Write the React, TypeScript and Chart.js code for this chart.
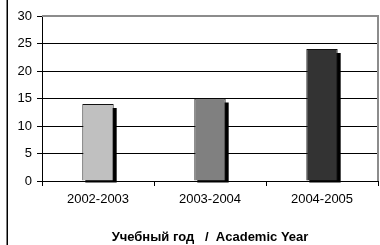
import React, { useEffect, useRef } from "react";
import { Chart, registerables } from "chart.js";

Chart.register(...registerables);

const categories = ["2002-2003", "2003-2004", "2004-2005"];
const values = [14, 15, 24];
const barColors = ["#C0C0C0", "#808080", "#333333"];
const yTicks = [0, 5, 10, 15, 20, 25, 30];
const xTitle = "Учебный год   /  Academic Year";

const FONT = "'Liberation Sans', Arial, sans-serif";

const shadowPlugin = {
  id: "barShadow",
  beforeDatasetsDraw(chart: any) {
    const ctx = chart.ctx;
    const meta = chart.getDatasetMeta(0);
    ctx.save();
    ctx.fillStyle = "#000000";
    meta.data.forEach((el: any) => {
      const { x, y, base, width } = el.getProps(["x", "y", "base", "width"], true);
      ctx.fillRect(x - width / 2 + 3, y + 4, width, base - y - 2);
    });
    ctx.restore();
  },
  afterDraw(chart: any) {
    const ctx = chart.ctx;
    const a = chart.chartArea;
    ctx.save();
    ctx.strokeStyle = "#8c8c8c";
    ctx.lineWidth = 2;
    ctx.beginPath();
    ctx.moveTo(a.left, a.top);
    ctx.lineTo(a.right, a.top);
    ctx.lineTo(a.right, a.bottom);
    ctx.stroke();
    ctx.strokeStyle = "#000000";
    ctx.lineWidth = 1.5;
    ctx.beginPath();
    ctx.moveTo(7.25, 0);
    ctx.lineTo(7.25, chart.height);
    ctx.stroke();
    ctx.restore();
  },
};

export default function App() {
  const ref = useRef<HTMLCanvasElement | null>(null);

  useEffect(() => {
    document.body.style.margin = "0";
    const canvas = ref.current;
    if (!canvas) return;
    const chart = new Chart(canvas, {
      type: "bar",
      data: {
        labels: categories,
        datasets: [
          {
            data: values,
            backgroundColor: barColors,
            borderColor: "#111111",
            borderWidth: 1,
            borderSkipped: "bottom",
            categoryPercentage: 1,
            barPercentage: 0.28,
          },
        ],
      },
      options: {
        animation: false,
        responsive: false,
        maintainAspectRatio: false,
        events: [],
        layout: { padding: { top: 16, right: 2, left: 0, bottom: 0 } },
        plugins: {
          legend: { display: false },
          tooltip: { enabled: false },
          title: { display: false },
        },
        scales: {
          x: {
            grid: {
              offset: true,
              drawOnChartArea: false,
              color: "#000000",
              tickLength: 5,
              lineWidth: 1,
            },
            border: { color: "#000000", width: 1 },
            ticks: {
              color: "#000000",
              font: { family: FONT, size: 13 },
              padding: 6,
              maxRotation: 0,
            },
            title: {
              display: true,
              text: xTitle,
              color: "#000000",
              font: { family: FONT, size: 13, weight: "bold", lineHeight: 1.2 },
              padding: { top: 0, bottom: 0 },
            },
            afterFit(scale: any) {
              scale.height = 64;
            },
          },
          y: {
            min: 0,
            max: 30,
            afterBuildTicks(scale: any) {
              scale.ticks = yTicks.map((v) => ({ value: v }));
            },
            grid: {
              color: "#000000",
              tickLength: 5,
              lineWidth: 1,
            },
            border: { color: "#000000", width: 1 },
            ticks: {
              color: "#000000",
              font: { family: FONT, size: 13 },
              padding: 5,
            },
            afterFit(scale: any) {
              scale.width = 42;
            },
          },
        },
      },
      plugins: [shadowPlugin],
    });
    return () => chart.destroy();
  }, []);

  return (
    <div style={{ width: 380, height: 245 }}>
      <canvas ref={ref} width={380} height={245} style={{ display: "block" }} />
    </div>
  );
}
